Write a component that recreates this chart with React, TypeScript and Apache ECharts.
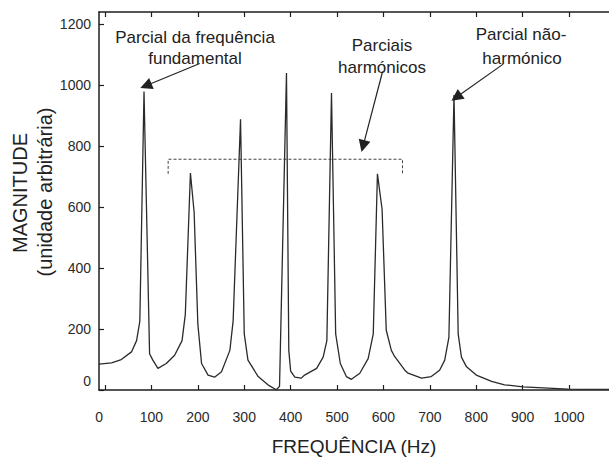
import React, { useEffect, useRef } from "react";
import * as echarts from "echarts";

// Spectrum samples: frequency (Hz) and magnitude (arbitrary units)
const FREQUENCY_HZ = [
  -13, 14, 35, 57, 68, 75, 84, 96, 103, 114, 132, 150, 166, 173, 184, 192, 200,
  208, 222, 236, 251, 269, 276, 292, 300, 308, 330, 351, 369, 376, 391, 396,
  400, 409, 423, 430, 456, 470, 478, 488, 497, 507, 520, 531, 549, 567, 578,
  587, 597, 606, 617, 624, 646, 653, 682, 703, 721, 732, 741, 752, 761, 768,
  779, 800, 833, 861, 901, 998, 1086,
];
const MAGNITUDE = [
  85, 89, 100, 125, 162, 226, 979, 119, 98, 71, 87, 114, 162, 248, 712, 583, 216,
  87, 49, 42, 60, 130, 226, 888, 184, 98, 44, 17, 1, 12, 1040, 130,
  62, 42, 39, 49, 71, 108, 162, 974, 184, 87, 44, 35, 55, 103, 184,
  709, 593, 196, 130, 110, 65, 55, 39, 44, 65, 98, 173, 968, 184, 108,
  76, 49, 28, 17, 10, 3, 2,
];

// Axis ticks
const X_TICKS = [0, 100, 200, 300, 400, 500, 600, 700, 800, 900, 1000];
const X_MIN = -13;
const X_MAX = 1086;
const Y_MIN = 0;
const Y_MAX = 1240;
const Y_STEP = 200;

// Dashed bracket spanning the harmonic partials
const BRACKET_HZ = [136, 136, 641, 641];
const BRACKET_MAG = [709, 757, 757, 709];

// Annotation arrows (start -> head), in data units
const ARROW_START_HZ = [204, 598, 858];
const ARROW_START_MAG = [1071, 1044, 1069];
const ARROW_END_HZ = [88, 556, 757];
const ARROW_END_MAG = [998, 800, 960];

const FONT = "'Liberation Sans', Arial, Helvetica, sans-serif";
const INK = "#1e1e1e";

export default function App() {
  const ref = useRef<HTMLDivElement>(null);

  useEffect(() => {
    if (!ref.current) return;
    const chart = echarts.init(ref.current, undefined, { renderer: "svg" });

    const spectrum = FREQUENCY_HZ.map((f, i) => [f, MAGNITUDE[i]]);
    const bracket = BRACKET_HZ.map((f, i) => [f, BRACKET_MAG[i]]);
    const arrows = ARROW_START_HZ.map((f, i) => ({
      coords: [
        [f, ARROW_START_MAG[i]],
        [ARROW_END_HZ[i], ARROW_END_MAG[i]],
      ],
    }));

    const axisLine = { show: true, onZero: false, lineStyle: { color: INK, width: 1.5 } };
    const tickStyle = { color: INK, width: 1.2 };

    const annotation = (text: string, x: number, y: number, size = 17) => ({
      type: "text",
      x,
      y,
      silent: true,
      style: {
        text,
        fill: "#222",
        font: `${size}px ${FONT}`,
        align: "center",
        verticalAlign: "middle",
      },
    });

    chart.setOption({
      animation: false,
      backgroundColor: "#ffffff",
      grid: { left: 99, right: 0, top: 12, bottom: 64 },
      xAxis: [
        {
          type: "value",
          position: "bottom",
          min: X_MIN,
          max: X_MAX,
          axisLine,
          axisTick: { inside: true, length: 5, customValues: X_TICKS, lineStyle: tickStyle },
          axisLabel: {
            customValues: X_TICKS,
            margin: 20,
            fontSize: 14,
            color: "#2a2a2a",
            fontFamily: FONT,
            formatter: (v: number) => (v === 0 ? "{z|0}" : String(v)),
            rich: { z: { fontSize: 14, color: "#2a2a2a", fontFamily: FONT, padding: [0, 12, 0, 0] } },
          },
          splitLine: { show: false },
          name: "FREQUÊNCIA (Hz)",
          nameLocation: "middle",
          nameGap: 47,
          nameTextStyle: { fontSize: 19, color: "#222", fontFamily: FONT },
        },
        {
          type: "value",
          position: "top",
          min: X_MIN,
          max: X_MAX,
          axisLine,
          axisTick: { inside: true, length: 5, customValues: X_TICKS, lineStyle: tickStyle },
          axisLabel: { show: false },
          splitLine: { show: false },
        },
      ],
      yAxis: {
        type: "value",
        min: Y_MIN,
        max: Y_MAX,
        interval: Y_STEP,
        axisLine,
        axisTick: { inside: true, length: 5, lineStyle: tickStyle },
        axisLabel: {
          margin: 8,
          fontSize: 14,
          color: "#2a2a2a",
          fontFamily: FONT,
          showMaxLabel: false,
          formatter: (v: number) => (v === 0 ? "{z|0}" : String(v)),
          rich: { z: { fontSize: 14, color: "#2a2a2a", fontFamily: FONT, padding: [0, 0, 18, 0] } },
        },
        splitLine: { show: false },
      },
      series: [
        {
          type: "line",
          data: spectrum,
          showSymbol: false,
          symbol: "none",
          lineStyle: { color: "#2a2a2a", width: 1.3 },
          z: 3,
        },
        {
          type: "line",
          data: bracket,
          showSymbol: false,
          symbol: "none",
          lineStyle: { color: "#444", width: 1, type: [3, 2] },
          z: 2,
        },
        {
          type: "lines",
          coordinateSystem: "cartesian2d",
          data: arrows,
          symbol: ["none", "triangle"],
          symbolSize: [7, 12],
          lineStyle: { color: "#222", width: 1.2, opacity: 1 },
          itemStyle: { color: "#111" },
          z: 4,
        },
      ],
      graphic: [
        annotation("Parcial da frequência", 195, 37),
        annotation("fundamental", 195, 58),
        annotation("Parciais", 382, 45),
        annotation("harmónicos", 382, 67),
        annotation("Parcial não-", 521, 34),
        annotation("harmónico", 522, 58),
        {
          type: "text",
          x: 20,
          y: 193,
          rotation: Math.PI / 2,
          silent: true,
          style: {
            text: "MAGNITUDE",
            fill: "#222",
            font: `20px ${FONT}`,
            align: "center",
            verticalAlign: "middle",
          },
        },
        {
          type: "text",
          x: 45,
          y: 192,
          rotation: Math.PI / 2,
          silent: true,
          style: {
            text: "(unidade arbitrária)",
            fill: "#222",
            font: `20px ${FONT}`,
            align: "center",
            verticalAlign: "middle",
          },
        },
      ],
    });

    return () => chart.dispose();
  }, []);

  return (
    <div
      ref={ref}
      style={{ position: "fixed", left: 0, top: 0, width: 609, height: 461, background: "#fff" }}
    />
  );
}
